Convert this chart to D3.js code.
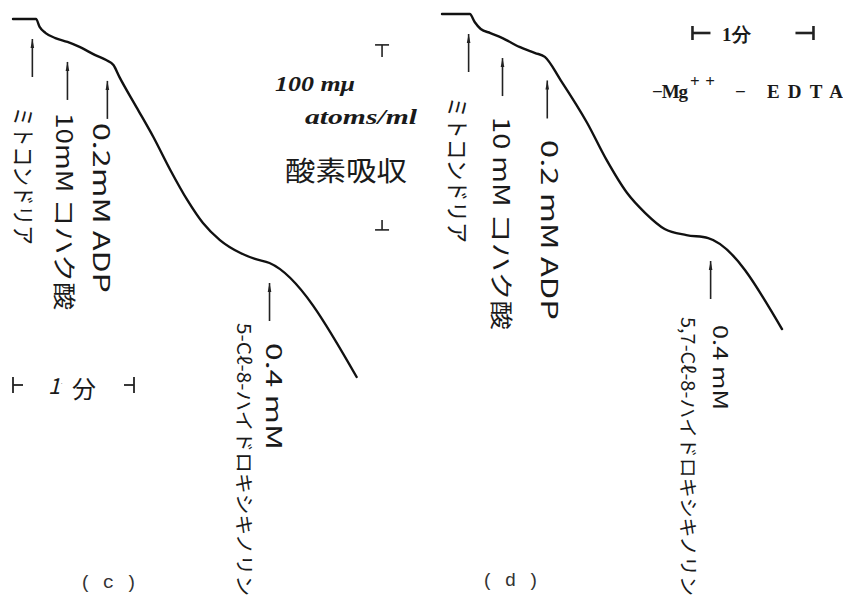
<!DOCTYPE html>
<html><head><meta charset="utf-8">
<script src="https://cdn.jsdelivr.net/npm/d3@7"></script>
<style>html,body{margin:0;padding:0;background:#fff}</style>
</head><body>
<svg id="chart" width="843" height="607"></svg>
<script>
// Oxygen electrode traces: O2 level (mμ atoms/ml, relative to start) against time (min)
const timeC   = [0, 0.19, 0.22, 0.27, 0.35, 0.45, 0.55, 0.68, 0.77, 0.83, 0.88, 1.02, 1.16, 1.30, 1.44, 1.57, 1.71, 1.88, 2.00, 2.12, 2.84];
const oxygenC = [0, 0, -4.3, -7.6, -10.3, -12.4, -15.1, -19.5, -22.2, -24.9, -31.4, -47.6, -63.8, -81.6, -97.8, -110.3, -119.5, -126.5, -129.7, -131.9, -193.5];
const timeD   = [0, 0.23, 0.27, 0.32, 0.40, 0.50, 0.64, 0.77, 0.85, 0.98, 1.20, 1.36, 1.53, 1.68, 1.84, 2.02, 2.20, 2.81];
const oxygenD = [0, 0, -4.3, -8.1, -10.3, -13.0, -17.8, -21.1, -23.2, -35.7, -58.9, -78.9, -96.8, -107.6, -116.2, -119.5, -121.1, -170.3];

// Times (min) at which each addition was made
const additionTimesC = [0.16, 0.45, 0.78, 2.12];
const additionTimesD = [0.22, 0.50, 0.87, 2.22];
const additionLabelsC = [["ミトコンドリア"], ["10mM コハク酸"], ["0.2mM ADP"], ["0.4 mM", "5-Cℓ-8-ハイドロキシキノリン"]];
const additionLabelsD = [["ミトコンドリア"], ["10 mM コハク酸"], ["0.2 mM ADP"], ["0.4 mM", "5,7-Cℓ-8-ハイドロキシキノリン"]];

// Scale bars: 1 minute and 100 mμ atoms/ml
const timeBarMinutes = 1;
const oxygenBarUnits = 100;

// Layout of the rotated addition labels: x offset from the arrow, top and bottom of the text, font size
const labelLayoutC = [[{dx: -7, y0: 107, y1: 245, fs: 23}], [{dx: -1, y0: 113, y1: 310, fs: 23}], [{dx: -4, y0: 123, y1: 293, fs: 23}],
                      [{dx: 6, y0: 343, y1: 450, fs: 22}, {dx: -24, y0: 323, y1: 596, fs: 19}]];
const labelLayoutD = [[{dx: -10, y0: 97, y1: 243, fs: 23}], [{dx: 0, y0: 117, y1: 330, fs: 23}], [{dx: 4, y0: 140, y1: 320, fs: 23}],
                      [{dx: 11, y0: 325, y1: 410, fs: 20}, {dx: -21, y0: 317, y1: 596, fs: 19}]];

const svg = d3.select("#chart");
const PX_PER_MIN = 121, PX_PER_100 = 185;

const xC = d3.scaleLinear().domain([0, 1]).range([13, 13 + PX_PER_MIN]);
const yC = d3.scaleLinear().domain([0, -100]).range([19, 19 + PX_PER_100]);
const xD = d3.scaleLinear().domain([0, 1]).range([442, 442 + PX_PER_MIN]);
const yD = d3.scaleLinear().domain([0, -100]).range([14, 14 + PX_PER_100]);

const HAND = "'Noto Sans CJK JP', 'Noto Sans', sans-serif";
const PRINT = "'Liberation Serif', 'DejaVu Serif', serif";

function valueAt(times, values, t) {
  const i = Math.max(1, d3.bisectLeft(times, t));
  const t0 = times[i - 1], t1 = times[i];
  const k = (t - t0) / (t1 - t0);
  return values[i - 1] + k * (values[i] - values[i - 1]);
}

function drawPanel(times, values, x, y, addTimes, addLabels, layout) {
  const g = svg.append("g");
  const pts = times.map((t, i) => [t, values[i]]);
  const line = d3.line().x(d => x(d[0])).y(d => y(d[1])).curve(d3.curveMonotoneX);
  g.append("path").attr("d", line(pts))
    .attr("fill", "none").attr("stroke", "#111").attr("stroke-width", 2.4)
    .attr("stroke-linejoin", "round").attr("stroke-linecap", "round");

  addTimes.forEach((t, i) => {
    const ax = x(t);
    const top = y(valueAt(times, values, t)) + 20;
    const bottom = top + 38;
    g.append("line").attr("x1", ax).attr("x2", ax).attr("y1", top).attr("y2", bottom)
      .attr("stroke", "#222").attr("stroke-width", 1.6);
    g.append("path")
      .attr("d", `M${ax},${top} L${ax - 1.8},${top + 9} L${ax + 1.8},${top + 9} Z`)
      .attr("fill", "#222");
    addLabels[i].forEach((txt, j) => {
      const L = layout[i][j];
      g.append("text")
        .attr("transform", `translate(${ax + L.dx},${L.y0}) rotate(90)`)
        .attr("dominant-baseline", "central")
        .attr("textLength", L.y1 - L.y0).attr("lengthAdjust", "spacingAndGlyphs")
        .attr("font-family", HAND).attr("font-size", L.fs).attr("font-weight", 400)
        .attr("fill", "#1a1a1a")
        .text(txt);
    });
  });
  return g;
}

drawPanel(timeC, oxygenC, xC, yC, additionTimesC, additionLabelsC, labelLayoutC);
drawPanel(timeD, oxygenD, xD, yD, additionTimesD, additionLabelsD, labelLayoutD);

// Time scale bars
function timeBar(x0, x1, yy, stub, h, w) {
  const g = svg.append("g").attr("stroke", "#222").attr("stroke-width", w);
  g.append("line").attr("x1", x0).attr("x2", x0).attr("y1", yy - h).attr("y2", yy + h);
  g.append("line").attr("x1", x0).attr("x2", x0 + stub).attr("y1", yy).attr("y2", yy);
  g.append("line").attr("x1", x1).attr("x2", x1).attr("y1", yy - h).attr("y2", yy + h);
  g.append("line").attr("x1", x1 - stub).attr("x2", x1).attr("y1", yy).attr("y2", yy);
}
timeBar(xC(0), xC(timeBarMinutes), 385, 10, 8, 1.8);
svg.append("text").attr("x", 48).attr("y", 394).attr("font-family", HAND).attr("font-size", 22)
  .attr("font-style", "italic").attr("fill", "#1a1a1a").text("1");
svg.append("text").attr("x", 60).attr("y", 386).attr("font-family", HAND).attr("font-size", 6)
  .attr("fill", "#333").text("·");
svg.append("text").attr("x", 84).attr("y", 398).attr("text-anchor", "middle").attr("font-family", HAND)
  .attr("font-size", 24).attr("fill", "#1a1a1a").text("分");

timeBar(xD(2.07), xD(2.07 + timeBarMinutes), 33, 18, 7, 2.6);
svg.append("text").attr("x", 722).attr("y", 41).attr("font-family", PRINT).attr("font-size", 19)
  .attr("font-weight", "bold").attr("fill", "#1a1a1a").text("1分");

// Oxygen scale bar
const barX = xC(3.05);
const barTop = yC(-14), barBottom = yC(-14 - oxygenBarUnits);
const ob = svg.append("g").attr("stroke", "#222").attr("stroke-width", 1.6);
ob.append("line").attr("x1", barX - 7).attr("x2", barX + 7).attr("y1", barTop).attr("y2", barTop);
ob.append("line").attr("x1", barX).attr("x2", barX).attr("y1", barTop).attr("y2", barTop + 12);
ob.append("line").attr("x1", barX - 7).attr("x2", barX + 7).attr("y1", barBottom).attr("y2", barBottom);
ob.append("line").attr("x1", barX).attr("x2", barX).attr("y1", barBottom - 10).attr("y2", barBottom);

svg.append("text").attr("x", 275).attr("y", 91).attr("font-family", PRINT).attr("font-style", "italic")
  .attr("font-weight", "bold").attr("font-size", 20).attr("textLength", 80).attr("lengthAdjust", "spacingAndGlyphs")
  .attr("fill", "#1a1a1a").text("100 mμ");
svg.append("text").attr("x", 305).attr("y", 124).attr("font-family", PRINT).attr("font-style", "italic")
  .attr("font-weight", "bold").attr("font-size", 21).attr("textLength", 112).attr("lengthAdjust", "spacingAndGlyphs")
  .attr("fill", "#1a1a1a").text("atoms/ml");
svg.append("text").attr("x", 285).attr("y", 181).attr("font-family", HAND).attr("font-size", 27)
  .attr("font-weight", 400).attr("textLength", 122).attr("lengthAdjust", "spacingAndGlyphs")
  .attr("fill", "#1a1a1a").text("酸素吸収");

// Condition note, panel (d)
svg.append("text").attr("x", 652).attr("y", 98).attr("font-family", PRINT).attr("font-weight", "bold")
  .attr("font-size", 19).attr("textLength", 36).attr("lengthAdjust", "spacing")
  .attr("fill", "#1a1a1a").text("−Mg");
svg.append("text").attr("x", 690).attr("y", 87).attr("font-family", PRINT).attr("font-weight", "bold")
  .attr("font-size", 17).attr("textLength", 25).attr("lengthAdjust", "spacing")
  .attr("fill", "#1a1a1a").text("++");
svg.append("text").attr("x", 735).attr("y", 98).attr("font-family", PRINT).attr("font-weight", "bold")
  .attr("font-size", 19).attr("textLength", 108).attr("lengthAdjust", "spacing")
  .attr("fill", "#1a1a1a").text("− EDTA");

// Panel letters
svg.append("text").attr("x", 80).attr("y", 588).attr("font-family", "'Liberation Mono', monospace")
  .attr("font-size", 19).attr("fill", "#333").text("( c )");
svg.append("text").attr("x", 482).attr("y", 586).attr("font-family", "'Liberation Mono', monospace")
  .attr("font-size", 19).attr("fill", "#333").text("( d )");
</script>
</body></html>
